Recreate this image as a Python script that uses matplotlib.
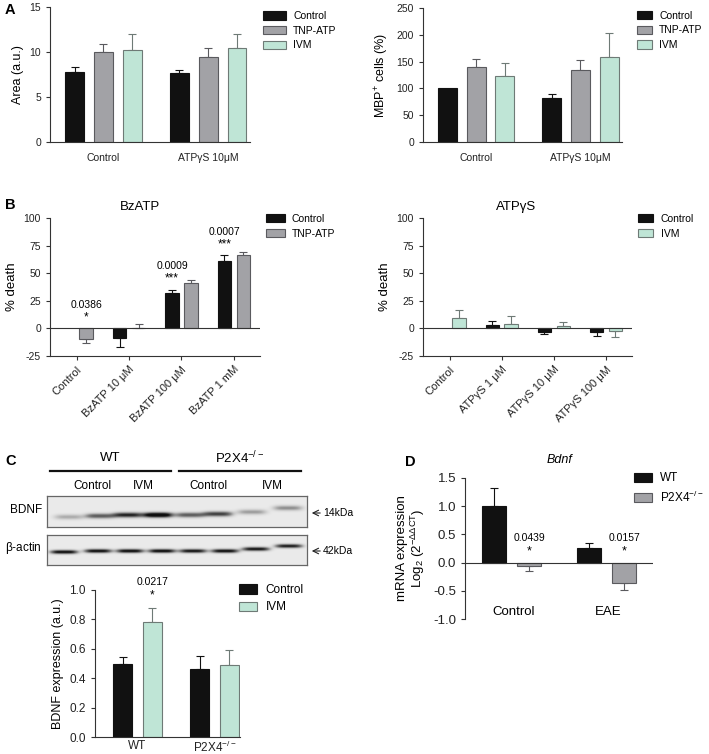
import numpy as np
import matplotlib
matplotlib.use("Agg")
import matplotlib.pyplot as plt
from matplotlib.patches import Patch

plt.rcParams['font.family'] = ['Liberation Sans', 'DejaVu Sans']
plt.rcParams['mathtext.default'] = 'regular'
plt.rcParams['axes.linewidth'] = 0.8
plt.rcParams['axes.unicode_minus'] = False

# ---------------------------------------------------------------
# colours
# ---------------------------------------------------------------
BLACK = "#111111"
GREY = "#a2a2a6"
GREY_EDGE = "#5a5a5e"
MINT = "#bfe5d6"
MINT_EDGE = "#6e7a76"
AXC = "#333333"

# ---------------------------------------------------------------
# data
# ---------------------------------------------------------------
a_groups = ["Control", "ATPγS 10μM"]
area_ctrl = [7.8, 7.65]
area_ctrl_err = [0.5, 0.3]
area_tnp = [10.0, 9.4]
area_tnp_err = [0.85, 1.1]
area_ivm = [10.2, 10.45]
area_ivm_err = [1.8, 1.55]

mbp_ctrl = [100, 83]
mbp_ctrl_err = [0, 6]
mbp_tnp = [140, 135]
mbp_tnp_err = [15, 18]
mbp_ivm = [124, 158]
mbp_ivm_err = [23, 46]

bz_groups = ["Control", "BzATP 10 μM", "BzATP 100 μM", "BzATP 1 mM"]
bz_ctrl = [np.nan, -8.8, 32, 61]
bz_ctrl_err = [0, 8.2, 3.2, 5.5]
bz_tnp = [-9.4, 0.6, 41.5, 66.5]
bz_tnp_err = [3.6, 3.6, 2.7, 2.5]
bz_pvals = ["0.0386", None, "0.0009", "0.0007"]
bz_stars = ["*", None, "***", "***"]

gs_groups = ["Control", "ATPγS 1 μM", "ATPγS 10 μM", "ATPγS 100 μM"]
gs_ctrl = [np.nan, 3.0, -3.0, -3.0]
gs_ctrl_err = [0, 3.4, 2.5, 4.0]
gs_ivm = [9.7, 3.6, 1.8, -2.7]
gs_ivm_err = [7.0, 7.9, 3.7, 5.3]

c_groups = ["WT", "P2X4$^{-/-}$"]
bdnf_ctrl = [0.50, 0.465]
bdnf_ctrl_err = [0.045, 0.085]
bdnf_ivm = [0.785, 0.49]
bdnf_ivm_err = [0.09, 0.105]

d_groups = ["Control", "EAE"]
d_wt = [1.0, 0.265]
d_wt_err = [0.33, 0.09]
d_ko = [-0.06, -0.36]
d_ko_err = [0.095, 0.12]
d_pvals = ["0.0439", "0.0157"]

# western blot: lane centre (px), band centre (px), darkness
bdnf_lane_x = [69, 100, 128, 158, 190, 218, 252, 288]
bdnf_lane_y = [517, 516, 515, 515, 515, 514, 512, 508]
bdnf_dark = [0.3, 0.6, 0.8, 1.05, 0.6, 0.7, 0.35, 0.4]
actin_lane_x = [64, 98, 130, 162, 193, 225, 256, 289]
actin_lane_y = [552, 551, 551, 551, 551, 551, 549, 546]
actin_dark = [0.9, 0.88, 0.9, 0.9, 0.85, 0.88, 0.85, 0.82]

FIG_W, FIG_H = 709, 754
TICK_FS = 7.5
LAB_FS = 9


def frac(l, t, r, b):
    return [l / FIG_W, 1 - b / FIG_H, (r - l) / FIG_W, (b - t) / FIG_H]


def draw_bars(ax, xs, vals, errs, width, color, edge):
    for x, v, e in zip(xs, vals, errs):
        if np.isnan(v):
            continue
        ax.bar(x, v, width, color=color, edgecolor=edge, linewidth=0.8, zorder=2)
        if e > 0:
            yerr = [[0], [e]] if v >= 0 else [[e], [0]]
            ax.errorbar(x, v, yerr=yerr, fmt="none", ecolor=edge,
                        elinewidth=0.8, capsize=3, capthick=0.8, zorder=1)


def style(ax):
    for s in ("top", "right"):
        ax.spines[s].set_visible(False)
    for s in ("left", "bottom"):
        ax.spines[s].set_color(AXC)
    ax.tick_params(axis="both", labelsize=TICK_FS, colors=AXC,
                   length=3, width=0.8, labelcolor="#222222")


def legend(ax, labels, colors, edges, x, y, fs=7.5, hl=1.5):
    handles = [Patch(facecolor=c, edgecolor=e, linewidth=0.8)
               for c, e in zip(colors, edges)]
    ax.legend(handles, labels, loc="upper left", bbox_to_anchor=(x, y),
              frameon=False, fontsize=fs, handlelength=hl, handleheight=0.85,
              labelspacing=0.45, borderaxespad=0, borderpad=0, handletextpad=0.7)


fig = plt.figure(figsize=(FIG_W / 100, FIG_H / 100), dpi=100)

# ---------------------------------------------------------------
# A left
# ---------------------------------------------------------------
ax = fig.add_axes(frac(50, 7, 250, 142))
gx = np.arange(len(a_groups))
off, w = 0.276, 0.181
draw_bars(ax, gx - off, area_ctrl, area_ctrl_err, w, BLACK, BLACK)
draw_bars(ax, gx, area_tnp, area_tnp_err, w, GREY, GREY_EDGE)
draw_bars(ax, gx + off, area_ivm, area_ivm_err, w, MINT, MINT_EDGE)
ax.set_xlim(-0.51, 1.40)
ax.set_ylim(0, 15)
ax.set_yticks([0, 5, 10, 15])
ax.set_xticks(gx)
ax.set_xticklabels(a_groups)
ax.set_ylabel("Area (a.u.)", fontsize=LAB_FS)
style(ax)
ax.tick_params(axis="x", length=0, pad=8)
legend(ax, ["Control", "TNP-ATP", "IVM"], [BLACK, GREY, MINT],
       [BLACK, GREY_EDGE, MINT_EDGE], 1.065, 0.97, hl=2.2)

# ---------------------------------------------------------------
# A right
# ---------------------------------------------------------------
ax = fig.add_axes(frac(423, 8, 622, 142))
draw_bars(ax, gx - off, mbp_ctrl, mbp_ctrl_err, w, BLACK, BLACK)
draw_bars(ax, gx, mbp_tnp, mbp_tnp_err, w, GREY, GREY_EDGE)
draw_bars(ax, gx + off, mbp_ivm, mbp_ivm_err, w, MINT, MINT_EDGE)
ax.set_xlim(-0.51, 1.40)
ax.set_ylim(0, 250)
ax.set_yticks([0, 50, 100, 150, 200, 250])
ax.set_xticks(gx)
ax.set_xticklabels(a_groups)
ax.set_ylabel("MBP$^{+}$ cells (%)", fontsize=LAB_FS)
style(ax)
ax.tick_params(axis="x", length=0, pad=8)
legend(ax, ["Control", "TNP-ATP", "IVM"], [BLACK, GREY, MINT],
       [BLACK, GREY_EDGE, MINT_EDGE], 1.075, 0.98, hl=1.45)

# ---------------------------------------------------------------
# B left / right
# ---------------------------------------------------------------
boff, bw = 0.18, 0.255


def death_panel(rect, groups, c_vals, c_err, t_vals, t_err, t_col, t_edge,
                title, title_x, labels, hl):
    ax = fig.add_axes(frac(*rect))
    gx = np.arange(len(groups))
    ax.axhline(0, color=AXC, lw=0.8, zorder=3)
    draw_bars(ax, gx - boff, c_vals, c_err, bw, BLACK, BLACK)
    draw_bars(ax, gx + boff, t_vals, t_err, bw, t_col, t_edge)
    ax.set_xlim(-0.51, 3.5)
    ax.set_ylim(-25, 100)
    ax.set_yticks([-25, 0, 25, 50, 75, 100])
    ax.set_xticks(gx)
    ax.set_xticklabels(groups, rotation=45, ha="right", rotation_mode="anchor")
    ax.set_ylabel("% death", fontsize=LAB_FS + 0.5)
    style(ax)
    ax.tick_params(axis="x", pad=3, labelsize=8)
    ax.text(title_x, 1.08, title, transform=ax.transAxes, ha="center",
            va="center", fontsize=9.5)
    legend(ax, labels, [BLACK, t_col], [BLACK, t_edge], 1.03, 1.03, hl=hl)
    return ax, gx


ax, gx = death_panel((50, 218, 260, 356), bz_groups, bz_ctrl, bz_ctrl_err,
                     bz_tnp, bz_tnp_err, GREY, GREY_EDGE, "BzATP", 0.43,
                     ["Control", "TNP-ATP"], 1.75)
for i, (p, s) in enumerate(zip(bz_pvals, bz_stars)):
    if p is None:
        continue
    xi = gx[i] + boff if i == 0 else gx[i] - boff
    top = 0 if i == 0 else bz_ctrl[i] + bz_ctrl_err[i]
    ax.text(xi, top + 21, p, ha="center", va="center", fontsize=7.5)
    ax.text(xi, top + 10, s, ha="center", va="center", fontsize=8.5)

death_panel((423, 218, 632, 356), gs_groups, gs_ctrl, gs_ctrl_err,
            gs_ivm, gs_ivm_err, MINT, MINT_EDGE, "ATPγS", 0.445,
            ["Control", "IVM"], 1.45)

# ---------------------------------------------------------------
# C bar chart
# ---------------------------------------------------------------
ax = fig.add_axes(frac(95, 590, 240, 737))
gx = np.arange(len(c_groups))
coff, cw = 0.19, 0.247
draw_bars(ax, gx - coff, bdnf_ctrl, bdnf_ctrl_err, cw, BLACK, BLACK)
draw_bars(ax, gx + coff, bdnf_ivm, bdnf_ivm_err, cw, MINT, MINT_EDGE)
ax.set_xlim(-0.55, 1.33)
ax.set_ylim(0, 1.0)
ax.set_yticks([0, 0.2, 0.4, 0.6, 0.8, 1.0])
ax.set_yticklabels(["0.0", "0.2", "0.4", "0.6", "0.8", "1.0"])
ax.set_xticks(gx)
ax.set_xticklabels(c_groups)
ax.set_ylabel("BDNF expression (a.u.)", fontsize=LAB_FS)
style(ax)
ax.tick_params(axis="x", length=0, pad=2)
ax.tick_params(axis="y", labelsize=8.5)
ax.tick_params(axis="x", labelsize=8.5)
ax.text(gx[0] + coff, 1.02, "0.0217", ha="center", va="bottom", fontsize=7.5,
        clip_on=False)
ax.text(gx[0] + coff, 0.96, "*", ha="center", va="center", fontsize=8.5)
legend(ax, ["Control", "IVM"], [BLACK, MINT], [BLACK, MINT_EDGE], 0.99, 1.04,
       fs=8.5, hl=1.6)

# ---------------------------------------------------------------
# D
# ---------------------------------------------------------------
ax = fig.add_axes(frac(465, 478, 653, 619))
gx = np.arange(len(d_groups))
doff, dw = 0.187, 0.254
ax.axhline(0, color=AXC, lw=0.8, zorder=3)
draw_bars(ax, gx - doff, d_wt, d_wt_err, dw, BLACK, BLACK)
draw_bars(ax, gx + doff, d_ko, d_ko_err, dw, GREY, GREY_EDGE)
ax.set_xlim(-0.49, 1.49)
ax.set_ylim(-1.0, 1.5)
ax.set_yticks([-1.0, -0.5, 0, 0.5, 1.0, 1.5])
ax.set_yticklabels(["-1.0", "-0.5", "0.0", "0.5", "1.0", "1.5"])
ax.set_xticks([])
style(ax)
ax.spines["bottom"].set_visible(False)
ax.tick_params(axis="y", labelsize=9.5)
ax.set_ylabel("mRNA expression\nLog$_2$ (2$^{-\\Delta\\Delta CT}$)", fontsize=9.5,
              linespacing=1.1)
for i, g in enumerate(d_groups):
    ax.text(gx[i] + 0.02, -0.88, g, ha="center", va="center", fontsize=9.5)
    ax.text(gx[i] + doff, 0.44, d_pvals[i], ha="center", va="center", fontsize=7.5)
    ax.text(gx[i] + doff, 0.2, "*", ha="center", va="center", fontsize=9)
ax.text(0.505, 1.13, "Bdnf", transform=ax.transAxes, ha="center", va="center",
        fontsize=9, style="italic")
legend(ax, ["WT", "P2X4$^{-/-}$"], [BLACK, GREY], [BLACK, GREY_EDGE], 0.9, 1.04,
       fs=8.5, hl=1.5)

# ---------------------------------------------------------------
# C western blot
# ---------------------------------------------------------------
def blot(rect, lane_x, lane_y, dark, half_w, half_h):
    l, t, r, b = rect
    bx = fig.add_axes(frac(l, t, r, b))
    xx = np.linspace(l, r, 4 * (r - l))
    yy = np.linspace(t, b, 4 * (b - t))
    X, Y = np.meshgrid(xx, yy)
    img = np.full(X.shape, 0.16)
    for cx, cy, d in zip(lane_x, lane_y, dark):
        img += d * np.exp(-((X - cx) / half_w) ** 4) * np.exp(-((Y - cy) / half_h) ** 2)
    bx.imshow(np.clip(img, 0, 1), cmap="Greys", vmin=0, vmax=1.05,
              extent=(l, r, b, t), aspect="auto", interpolation="bilinear")
    bx.set_xticks([])
    bx.set_yticks([])
    for s in bx.spines.values():
        s.set_color("#666666")
        s.set_linewidth(0.9)


blot((47, 496, 307, 527), bdnf_lane_x, bdnf_lane_y, bdnf_dark, 15, 2.6)
blot((47, 535, 307, 565), actin_lane_x, actin_lane_y, actin_dark, 14, 2.0)

# overlay in pixel coordinates for labels
ov = fig.add_axes([0, 0, 1, 1])
ov.set_xlim(0, FIG_W)
ov.set_ylim(FIG_H, 0)
ov.axis("off")
ov.patch.set_alpha(0)
for txt, x, y in [("A", 5, 10), ("B", 5, 205), ("C", 5, 461), ("D", 405, 462)]:
    ov.text(x, y, txt, fontsize=10.5, fontweight="bold", ha="left", va="center")
ov.plot([50, 171], [471, 471], color="#111111", lw=1.6)
ov.plot([179, 301], [471, 471], color="#111111", lw=1.6)
ov.text(110, 458, "WT", fontsize=9.5, ha="center", va="center")
ov.text(240, 458, "P2X4$^{-/-}$", fontsize=9.5, ha="center", va="center")
for txt, x in [("Control", 92), ("IVM", 143), ("Control", 208), ("IVM", 272)]:
    ov.text(x, 486, txt, fontsize=8.5, ha="center", va="center")
ov.text(42, 510, "BDNF", fontsize=8.5, ha="right", va="center")
ov.text(42, 548, "$\\beta$-actin", fontsize=8.5, ha="right", va="center")
ov.annotate("", xy=(309, 513), xytext=(323, 513),
            arrowprops=dict(arrowstyle="->", lw=0.8, color="#222222"))
ov.text(323, 513, "14kDa", fontsize=7.5, ha="left", va="center")
ov.annotate("", xy=(309, 551), xytext=(323, 551),
            arrowprops=dict(arrowstyle="->", lw=0.8, color="#222222"))
ov.text(323, 551, "42kDa", fontsize=7.5, ha="left", va="center")

fig.savefig("out.png", dpi=100)
